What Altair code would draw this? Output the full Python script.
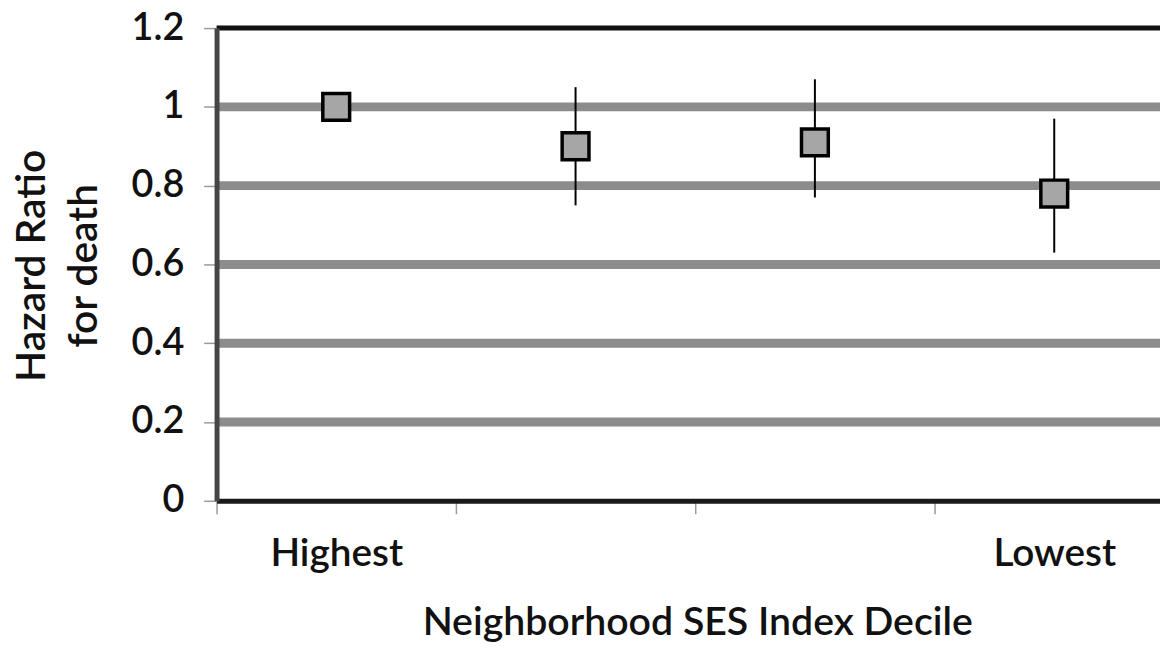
import altair as alt
import pandas as pd

# ---- data ----
deciles = ["Highest", "Decile 2", "Decile 3", "Lowest"]
tick_labels = ["Highest", "", "", "Lowest"]
hazard_ratio = [1.00, 0.90, 0.91, 0.78]
ci_lower = [None, 0.75, 0.77, 0.63]
ci_upper = [None, 1.05, 1.07, 0.97]
y_ticks = [0, 0.2, 0.4, 0.6, 0.8, 1.0, 1.2]
grid_values = [0.2, 0.4, 0.6, 0.8, 1.0]
top_border = [1.2]

points = pd.DataFrame({"decile": deciles, "hr": hazard_ratio,
                       "lo": ci_lower, "hi": ci_upper})
grid_df = pd.DataFrame({"v": grid_values})
top_df = pd.DataFrame({"v": top_border})

FONT = "Lato"
W = 600

label_expr = ""
for cat, lab in zip(deciles, tick_labels):
    label_expr += f"datum.value == '{cat}' ? '{lab}' : "
label_expr += "''"

x_scale = alt.Scale(domain=deciles, paddingInner=0, paddingOuter=0)
y_scale = alt.Scale(domain=[0, 1.2], nice=False, zero=True)

x_axis = alt.Axis(
    title="Neighborhood SES Index Decile",
    labelExpr=label_expr,
    tickBand="extent",
    domain=True, domainColor="#1a1a1a", domainWidth=5,
    ticks=True, tickColor="#9a9a9a", tickWidth=1.5, tickSize=13,
    labelFont=FONT, labelFontSize=39, labelFontWeight=W, labelColor="#111111",
    labelAngle=0, labelBaseline="alphabetic", labelPadding=52,
    titleFont=FONT, titleFontSize=39.5, titleFontWeight=W, titleColor="#111111",
    titleBaseline="alphabetic", titleAlign="center", titleX=484, titleY=135,
    grid=False, zindex=1,
)
y_axis = alt.Axis(
    title=["Hazard Ratio", "for death"],
    values=y_ticks, format="~g",
    domain=True, domainColor="#454545", domainWidth=5,
    ticks=True, tickColor="#9a9a9a", tickWidth=1.5, tickSize=13,
    labelFont=FONT, labelFontSize=38, labelFontWeight=W, labelColor="#111111",
    labelPadding=20,
    titleFont=FONT, titleFontSize=41, titleFontWeight=W, titleColor="#111111",
    titleAngle=270, titleBaseline="alphabetic", titleAlign="center",
    titleX=-173, titleY=239, titleLineHeight=52,
    grid=False, zindex=1,
)

grid = alt.Chart(grid_df).mark_rule(color="#8c8c8c", strokeWidth=9).encode(
    y=alt.Y("v:Q", scale=y_scale, axis=y_axis)
)
top = alt.Chart(top_df).mark_rule(color="#111111", strokeWidth=5).encode(
    y=alt.Y("v:Q", scale=y_scale, axis=y_axis)
)
errs = alt.Chart(points).transform_filter("isValid(datum.lo)").mark_rule(
    color="black", strokeWidth=2
).encode(
    x=alt.X("decile:N", scale=x_scale, sort=deciles, axis=x_axis),
    y=alt.Y("lo:Q", scale=y_scale, axis=y_axis),
    y2="hi:Q",
)
marks = alt.Chart(points).mark_point(
    shape="square", filled=True, size=729, fill="#a6a6a6",
    stroke="black", strokeWidth=3.5, opacity=1,
).encode(
    x=alt.X("decile:N", scale=x_scale, sort=deciles, axis=x_axis),
    y=alt.Y("hr:Q", scale=y_scale, axis=y_axis),
)

# the plot runs past the right edge of the page, as in the reference;
# a negative right padding keeps the drawing surface inside the window
chart = alt.layer(grid, top, errs, marks).properties(
    width=964, height=476,
    padding={"left": 210, "top": 18, "right": -14, "bottom": 145},
    autosize=alt.AutoSizeParams(type="none"),
).configure_view(stroke=None).configure(background="white")

chart.save("out.html", embed_options={"renderer": "svg", "actions": False})
